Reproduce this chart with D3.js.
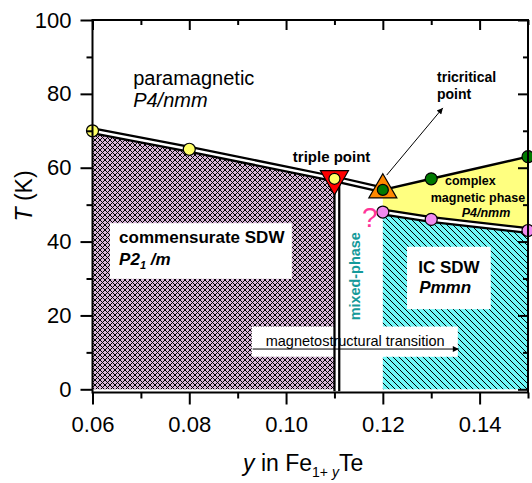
<!DOCTYPE html>
<html>
<head>
<meta charset="utf-8">
<script src="https://cdn.jsdelivr.net/npm/d3@7"></script>
<style>
  body { margin: 0; background: #fff; }
  svg text { font-family: "Liberation Sans", Arial, sans-serif; }
</style>
</head>
<body>
<div id="chart"></div>
<script>
// phase boundary points (y in Fe1+yTe, T in K)
var commY = [0.06, 0.08], commT = [70, 65];          // yellow points
var triplePt = [0.11, 57];                           // triple point
var tricritPt = [0.12, 54];                          // tricritical point
var complexY = [0.13, 0.15], complexT = [57, 63];    // green points
var icY = [0.12, 0.13, 0.15], icT = [48, 46, 43];    // pink points
var splitY = 0.1105;                                 // vertical boundary

// ticks
var xMajor = [0.06, 0.08, 0.10, 0.12, 0.14],
  xMinor = [0.07, 0.09, 0.11, 0.13, 0.15];
var yMajor = [0, 20, 40, 60, 80, 100],
  yMinor = [10, 30, 50, 70, 90];

var W = 532, H = 483;
var plotLeft = 92.5, plotRight = 528, plotTop = 20, zeroY = 389.3, axisY = 392.5;

var svg = d3.select('#chart').append('svg')
  .attr('width', W).attr('height', H);

var x = d3.scaleLinear().domain([0.06, 0.15]).range([plotLeft, plotRight]);
var y = d3.scaleLinear().domain([0, 100]).range([zeroY, plotTop]);

// patterns (pixel hatching)
var defs = svg.append('defs');
var cross = defs.append('pattern').attr('id', 'cross')
  .attr('patternUnits', 'userSpaceOnUse').attr('width', 5).attr('height', 5);
cross.append('rect').attr('width', 5).attr('height', 5).attr('fill', '#d8b6d8');
cross.selectAll('rect.px')
  .data([[0, 0], [1, 1], [2, 2], [3, 3], [4, 4], [4, 0], [3, 1], [1, 3], [0, 4]])
  .enter().append('rect').attr('class', 'px')
  .attr('x', function (d) { return d[0]; }).attr('y', function (d) { return d[1]; })
  .attr('width', 1).attr('height', 1).attr('fill', '#000');

var diag = defs.append('pattern').attr('id', 'diag')
  .attr('patternUnits', 'userSpaceOnUse').attr('width', 6).attr('height', 6);
diag.append('rect').attr('width', 6).attr('height', 6).attr('fill', '#6ff7f7');
diag.selectAll('rect.px')
  .data([0, 1, 2, 3, 4, 5])
  .enter().append('rect').attr('class', 'px')
  .attr('x', function (d) { return d; }).attr('y', function (d) { return d; })
  .attr('width', 1).attr('height', 1).attr('fill', '#000');

var line = d3.line().x(function (d) { return x(d[0]); }).y(function (d) { return y(d[1]); });

var commPts = commY.map(function (v, i) { return [v, commT[i]]; });
var complexPts = complexY.map(function (v, i) { return [v, complexT[i]]; });
var icPts = icY.map(function (v, i) { return [v, icT[i]]; });

// regions
svg.append('path')
  .attr('d', line([[commY[0], 0]].concat(commPts, [triplePt, [triplePt[0], 0]])) + 'Z')
  .attr('fill', 'url(#cross)');

svg.append('path')
  .attr('d', line([tricritPt].concat(complexPts, icPts.slice().reverse())) + 'Z')
  .attr('fill', '#ffff80');

svg.append('path')
  .attr('d', line(icPts.concat([[icY[icY.length - 1], 0], [icY[0], 0]])) + 'Z')
  .attr('fill', 'url(#diag)');

// label boxes
function box(x0, x1, t0, t1) {
  svg.append('rect')
    .attr('x', x(x0)).attr('y', y(t1))
    .attr('width', x(x1) - x(x0)).attr('height', y(t0) - y(t1))
    .attr('fill', '#fff');
}
box(0.0636, 0.1012, 29.9, 45.0);
box(0.1250, 0.1423, 21.7, 38.6);
box(0.0929, 0.1355, 8.8, 17.0);

// double lines
function doubleLine(pts) {
  svg.append('path').attr('d', line(pts)).attr('fill', 'none')
    .attr('stroke', '#000').attr('stroke-width', 7).attr('stroke-linejoin', 'miter');
  svg.append('path').attr('d', line(pts)).attr('fill', 'none')
    .attr('stroke', '#fff').attr('stroke-width', 2.5).attr('stroke-linejoin', 'miter');
}
doubleLine([[splitY, -0.5], [splitY, triplePt[1]]]);
doubleLine(commPts.concat([triplePt, tricritPt]));
doubleLine(icPts);

svg.append('path').attr('d', line([tricritPt].concat(complexPts)))
  .attr('fill', 'none').attr('stroke', '#000').attr('stroke-width', 2.5);

// markers
svg.append('path')
  .attr('d', d3.symbol().type(d3.symbolTriangle).size(340)())
  .attr('transform', 'translate(' + x(triplePt[0]) + ',' + y(triplePt[1]) + ') rotate(180)')
  .attr('fill', '#ff0000').attr('stroke', '#000').attr('stroke-width', 1.2);
svg.append('path')
  .attr('d', d3.symbol().type(d3.symbolTriangle).size(340)())
  .attr('transform', 'translate(' + x(tricritPt[0]) + ',' + y(tricritPt[1]) + ')')
  .attr('fill', '#ff8800').attr('stroke', '#000').attr('stroke-width', 1.2);

function dots(pts, color, r) {
  svg.selectAll(null).data(pts).enter().append('circle')
    .attr('cx', function (d) { return x(d[0]); })
    .attr('cy', function (d) { return y(d[1]); })
    .attr('r', r).attr('fill', color)
    .attr('stroke', '#000').attr('stroke-width', 1.2);
}
dots(commPts, '#ffff66', 6);
dots([triplePt], '#ffff66', 5.5);
dots([tricritPt], '#007a00', 5.5);
dots(complexPts, '#007a00', 6);
dots(icPts, '#f08af0', 6);

// text labels
function label(px, pt, str, size, weight, style, anchor) {
  return svg.append('text')
    .attr('x', x(px)).attr('y', y(pt))
    .attr('font-size', size).attr('font-weight', weight || 'normal')
    .attr('font-style', style || 'normal')
    .attr('text-anchor', anchor || 'start')
    .text(str);
}
label(0.0684, 82.4, 'paramagnetic', 20);
label(0.0684, 76.4, 'P4/nmm', 20, 'normal', 'italic');
label(0.1014, 61.6, 'triple point', 15, 'bold');
label(0.1312, 83.2, 'tricritical', 14, 'bold');
label(0.1312, 78.6, 'point', 14, 'bold');
label(0.1086, 55.3, 'complex', 12.5, 'bold').attr('x', 445);
label(0.1395, 50.8, 'magnetic phase', 12.5, 'bold').attr('x', 430.7);
label(0.1414, 46.7, 'P4/nmm', 12.5, 'bold', 'italic').attr('x', 461.7);

label(0.0655, 39.6, 'commensurate SDW', 17, 'bold');
var p21 = label(0.0655, 33.7, 'P2', 17, 'bold', 'italic');
p21.append('tspan').attr('font-size', 11).attr('dy', 4).text('1');
p21.append('tspan').attr('dy', -4).text(' /m');

label(0.1273, 31.6, 'IC SDW', 17, 'bold');
label(0.1275, 26.1, 'Pmmn', 17, 'bold', 'italic');

label(0.0958, 11.8, 'magnetostructural transition', 14.5);

svg.append('text')
  .attr('transform', 'translate(' + x(0.1153) + ',' + y(30.6) + ') rotate(-90)')
  .attr('text-anchor', 'middle').attr('font-size', 14.4).attr('font-weight', 'bold')
  .attr('fill', '#159a9a').text('mixed-phase');

label(0.1157, 44.0, '?', 28).attr('fill', '#ff3399');

// arrows
defs.append('marker').attr('id', 'head')
  .attr('viewBox', '0 0 10 10').attr('refX', 10).attr('refY', 5)
  .attr('markerWidth', 8).attr('markerHeight', 6).attr('markerUnits', 'userSpaceOnUse')
  .attr('orient', 'auto')
  .append('path').attr('d', 'M0,0L10,5L0,10Z').attr('fill', '#000');

svg.append('line')
  .attr('x1', x(0.1208)).attr('y1', y(58.0))
  .attr('x2', x(0.1324)).attr('y2', y(76.2))
  .attr('stroke', '#000').attr('stroke-width', 1).attr('marker-end', 'url(#head)');
svg.append('line')
  .attr('x1', x(0.0931)).attr('y1', y(10.9))
  .attr('x2', x(0.1357)).attr('y2', y(10.9))
  .attr('stroke', '#000').attr('stroke-width', 1).attr('marker-end', 'url(#head)');

// frame
svg.append('rect')
  .attr('x', plotLeft).attr('y', plotTop)
  .attr('width', plotRight - plotLeft).attr('height', axisY - plotTop)
  .attr('fill', 'none').attr('stroke', '#000').attr('stroke-width', 2);

// axes
function styleAxis(g) {
  g.select('.domain').remove();
  g.selectAll('.tick line').attr('stroke', '#000').attr('stroke-width', 2);
  g.selectAll('.tick text').attr('font-size', 22).attr('fill', '#000')
    .attr('font-family', '"Liberation Sans", Arial, sans-serif');
}

svg.append('g').attr('transform', 'translate(0,' + axisY + ')')
  .call(d3.axisBottom(x).tickValues(xMajor).tickSize(12).tickPadding(12)
    .tickFormat(d3.format('.2f')))
  .call(styleAxis);
svg.append('g').attr('transform', 'translate(0,' + axisY + ')')
  .call(d3.axisBottom(x).tickValues(xMinor).tickSize(6).tickFormat(''))
  .call(styleAxis);
svg.append('g').attr('transform', 'translate(0,' + plotTop + ')')
  .call(d3.axisBottom(x).tickValues(xMajor).tickSize(10).tickFormat(''))
  .call(styleAxis);
svg.append('g').attr('transform', 'translate(0,' + plotTop + ')')
  .call(d3.axisBottom(x).tickValues(xMinor).tickSize(5).tickFormat(''))
  .call(styleAxis);

svg.append('g').attr('transform', 'translate(' + plotLeft + ',0)')
  .call(d3.axisLeft(y).tickValues(yMajor).tickSize(12).tickPadding(9))
  .call(styleAxis);
svg.append('g').attr('transform', 'translate(' + plotLeft + ',0)')
  .call(d3.axisLeft(y).tickValues(yMinor).tickSize(6).tickFormat(''))
  .call(styleAxis);
svg.append('g').attr('transform', 'translate(' + plotRight + ',0)')
  .call(d3.axisLeft(y).tickValues(yMajor).tickSize(10).tickFormat(''))
  .call(styleAxis);
svg.append('g').attr('transform', 'translate(' + plotRight + ',0)')
  .call(d3.axisLeft(y).tickValues(yMinor).tickSize(5).tickFormat(''))
  .call(styleAxis);

// axis titles
var xt = svg.append('text').attr('x', 243).attr('y', 471).attr('font-size', 23);
xt.append('tspan').attr('font-style', 'italic').text('y');
xt.append('tspan').text(' in Fe');
xt.append('tspan').attr('font-size', 14).attr('dy', 6).text('1+ ');
xt.append('tspan').attr('font-size', 14).attr('font-style', 'italic').text('y');
xt.append('tspan').attr('dy', -6).text('Te');

var yt = svg.append('text')
  .attr('transform', 'translate(32,196) rotate(-90)')
  .attr('text-anchor', 'middle').attr('font-size', 23);
yt.append('tspan').attr('font-style', 'italic').text('T');
yt.append('tspan').text(' (K)');
</script>
</body>
</html>
